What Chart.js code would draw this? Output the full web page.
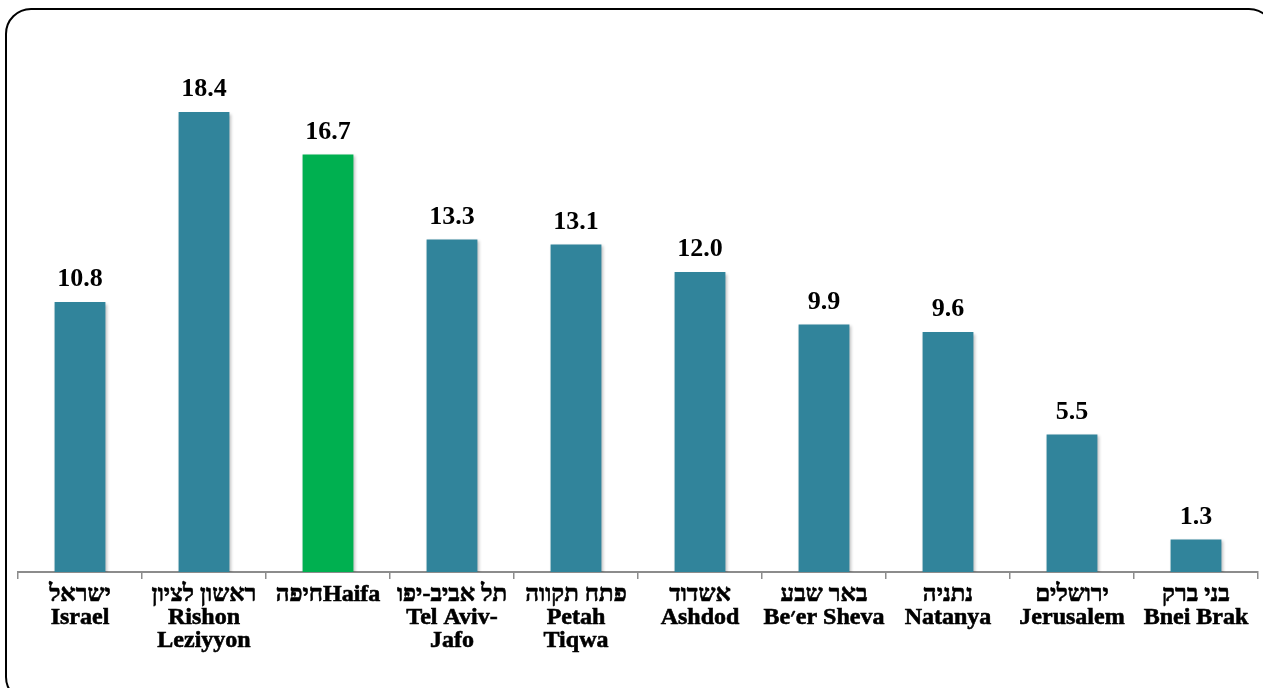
<!DOCTYPE html>
<html>
<head>
<meta charset="utf-8">
<script src="https://cdn.jsdelivr.net/npm/chart.js@4/dist/chart.umd.min.js"></script>
<style>
html,body{margin:0;padding:0;background:#fff;overflow:hidden;width:1263px;height:688px;}
#frame{position:absolute;left:5px;top:8px;width:1270px;height:695px;border:2px solid #000;border-radius:26px;box-sizing:border-box;}
#wrap{position:absolute;left:0;top:0;width:1263px;height:688px;}
</style>
</head>
<body>
<div id="frame"></div>
<div id="wrap"><canvas id="c" width="1263" height="688"></canvas></div>
<script>
const hebrewNames = ["ישראל","ראשון לציון","חיפהHaifa","תל אביב-יפו","פתח תקווה","אשדוד","באר שבע","נתניה","ירושלים","בני ברק"];
const englishNames = [["Israel"],["Rishon","Leziyyon"],[],["Tel Aviv-","Jafo"],["Petah","Tiqwa"],["Ashdod"],["Be׳er Sheva"],["Natanya"],["Jerusalem"],["Bnei Brak"]];
const values = [10.8, 18.4, 16.7, 13.3, 13.1, 12.0, 9.9, 9.6, 5.5, 1.3];
const highlightIndex = 2;

const labels = hebrewNames.map((h, i) => [h].concat(englishNames[i]));
const colors = values.map((v, i) => i === highlightIndex ? '#00B050' : '#31849B');

const valueLabels = {
  id: 'valueLabels',
  beforeDatasetsDraw(chart) {
    const ctx = chart.ctx;
    ctx.save();
    ctx.shadowColor = 'rgba(0,0,0,0.25)';
    ctx.shadowBlur = 3;
    ctx.shadowOffsetX = 1.5;
    ctx.shadowOffsetY = 1.5;
  },
  afterDatasetsDraw(chart) {
    const ctx = chart.ctx;
    ctx.restore();
    ctx.save();
    ctx.font = 'bold 26px "Liberation Serif", "Times New Roman", serif';
    ctx.fillStyle = '#000';
    ctx.textAlign = 'center';
    ctx.textBaseline = 'alphabetic';
    const meta = chart.getDatasetMeta(0);
    meta.data.forEach((bar, i) => {
      ctx.fillText(values[i].toFixed(1), bar.x, bar.y - 16);
    });
    ctx.restore();
  }
};

new Chart(document.getElementById('c'), {
  type: 'bar',
  data: {
    labels: labels,
    datasets: [{
      data: values,
      backgroundColor: colors,
      borderWidth: 0,
      barPercentage: 0.41,
      categoryPercentage: 1.0
    }]
  },
  options: {
    responsive: false,
    animation: false,
    devicePixelRatio: 1,
    layout: { padding: { left: 18, right: 5, top: 72, bottom: 0 } },
    plugins: { legend: { display: false }, tooltip: { enabled: false } },
    scales: {
      y: {
        display: false,
        min: 0,
        max: 20
      },
      x: {
        afterFit(scale) { scale.height = 116; },
        grid: {
          display: true,
          offset: true,
          drawOnChartArea: false,
          drawTicks: true,
          tickLength: 7,
          color: '#8c8c8c',
          lineWidth: 1.5
        },
        border: { display: true, color: '#8c8c8c', width: 2 },
        ticks: {
          maxRotation: 0,
          autoSkip: false,
          padding: 4,
          color: '#000',
          textStrokeColor: '#000',
          textStrokeWidth: 0.6,
          font: { family: '"Liberation Serif", "DejaVu Serif", "Times New Roman", serif', size: 24, weight: 'bold', lineHeight: 0.97 }
        }
      }
    }
  },
  plugins: [valueLabels]
});
</script>
</body>
</html>
